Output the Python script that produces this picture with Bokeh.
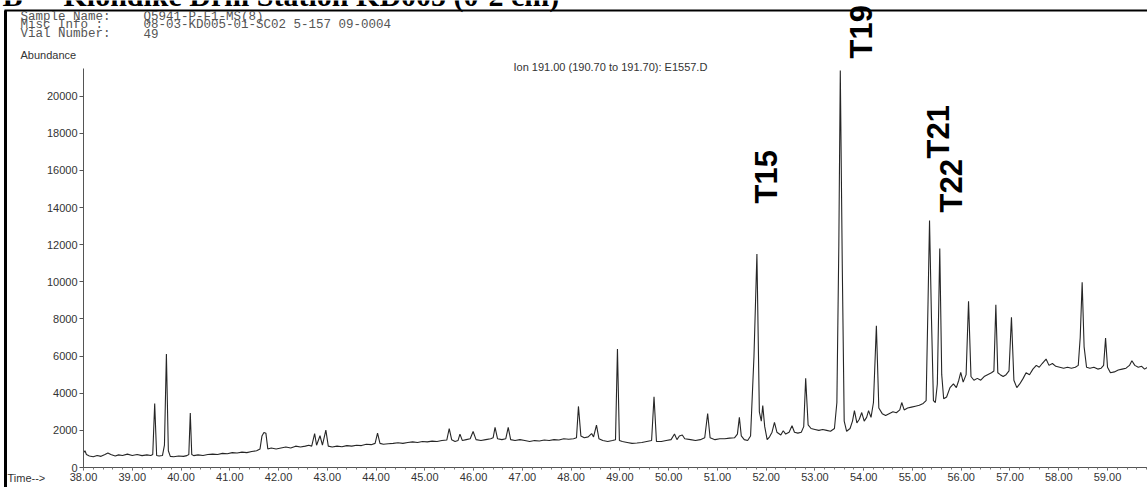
from bokeh.plotting import figure
from bokeh.models import Label, Arrow, NumeralTickFormatter, SingleIntervalTicker, Range1d
from bokeh.embed import file_html
from bokeh.resources import INLINE

# ---------------- data ----------------
times = [
    38.00, 38.03, 38.06, 38.12, 38.20, 38.28, 38.36, 38.44, 38.50, 38.56, 38.65, 38.72, 38.80, 38.90,
    39.00, 39.10, 39.20, 39.30, 39.38, 39.42, 39.46, 39.50, 39.55, 39.62, 39.66, 39.70, 39.74, 39.78,
    39.85, 39.95, 40.05, 40.12, 40.16, 40.19, 40.22, 40.26, 40.35, 40.45, 40.55, 40.65, 40.75, 40.85,
    40.95, 41.05, 41.15, 41.25, 41.35, 41.45, 41.55, 41.62, 41.66, 41.70, 41.74, 41.78, 41.85, 41.95,
    42.05, 42.15, 42.25, 42.35, 42.45, 42.55, 42.62, 42.68, 42.74, 42.78, 42.85, 42.90, 42.97, 43.02,
    43.10, 43.20, 43.30, 43.40, 43.50, 43.60, 43.70, 43.80, 43.90, 43.98, 44.03, 44.08, 44.15, 44.25,
    44.35, 44.45, 44.55, 44.65, 44.75, 44.85, 44.95, 45.05, 45.15, 45.25, 45.35, 45.45, 45.50, 45.55,
    45.62, 45.68, 45.72, 45.77, 45.85, 45.93, 45.99, 46.05, 46.15, 46.25, 46.35, 46.40, 46.44, 46.49,
    46.58, 46.66, 46.71, 46.76, 46.85, 46.95, 47.05, 47.15, 47.25, 47.35, 47.45, 47.55, 47.65, 47.75,
    47.85, 47.95, 48.05, 48.11, 48.15, 48.20, 48.27, 48.35, 48.42, 48.46, 48.52, 48.57, 48.65, 48.75,
    48.85, 48.91, 48.95, 48.99, 49.05, 49.15, 49.25, 49.35, 49.45, 49.55, 49.65, 49.70, 49.75, 49.85,
    49.95, 50.05, 50.12, 50.17, 50.22, 50.28, 50.33, 50.45, 50.55, 50.65, 50.74, 50.80, 50.85, 50.95,
    51.05, 51.15, 51.25, 51.35, 51.41, 51.45, 51.49, 51.55, 51.62, 51.68, 51.75, 51.81, 51.86, 51.90,
    51.93, 51.97, 52.02, 52.07, 52.12, 52.17, 52.22, 52.30, 52.35, 52.40, 52.47, 52.53, 52.58, 52.65,
    52.72, 52.77, 52.81, 52.86, 52.92, 53.00, 53.08, 53.16, 53.24, 53.32, 53.40, 53.45, 53.49, 53.52,
    53.56, 53.60, 53.65, 53.72, 53.77, 53.81, 53.86, 53.91, 53.96, 54.01, 54.06, 54.10, 54.15, 54.20,
    54.26, 54.31, 54.38, 54.45, 54.52, 54.60, 54.67, 54.74, 54.78, 54.83, 54.90, 54.98, 55.06, 55.14,
    55.22, 55.28, 55.32, 55.35, 55.39, 55.43, 55.47, 55.51, 55.56, 55.60, 55.64, 55.70, 55.77, 55.84,
    55.90, 55.95, 55.99, 56.04, 56.10, 56.15, 56.20, 56.26, 56.33, 56.40, 56.47, 56.54, 56.62, 56.67,
    56.71, 56.75, 56.80, 56.86, 56.92, 56.98, 57.03, 57.08, 57.14, 57.20, 57.27, 57.33, 57.40, 57.47,
    57.54, 57.60, 57.66, 57.74, 57.80, 57.87, 57.94, 58.02, 58.10, 58.18, 58.26, 58.34, 58.40, 58.44,
    58.48, 58.52, 58.57, 58.64, 58.72, 58.80, 58.87, 58.92, 58.96, 59.00, 59.06, 59.14, 59.22, 59.30,
    59.38, 59.45, 59.50, 59.56, 59.63, 59.70, 59.76, 59.82,
]
abundance = [
    800, 900, 700, 620, 580, 650, 600, 700, 780, 700, 620, 680, 650, 720,
    650, 700, 640, 680, 650, 700, 3450, 650, 620, 650, 1200, 6110, 900, 600,
    580, 620, 600, 640, 700, 2930, 700, 640, 680, 650, 700, 720, 700, 760,
    740, 800, 780, 830, 800, 860, 900, 1000, 1700, 1890, 1850, 1000, 1050, 1000,
    1050, 1100, 1050, 1150, 1100, 1150, 1200, 1150, 1830, 1200, 1710, 1200, 2010, 1150,
    1100, 1150, 1120, 1180, 1150, 1200, 1180, 1250, 1230, 1300, 1850, 1300, 1250, 1280,
    1300, 1330, 1300, 1350, 1380, 1350, 1400, 1380, 1420, 1400, 1450, 1480, 2100, 1500,
    1400, 1450, 1800, 1450, 1500, 1550, 1940, 1500, 1450, 1500, 1550, 1600, 2160, 1550,
    1500, 1550, 2160, 1500, 1450, 1500, 1450, 1400, 1450, 1430, 1480, 1450, 1500, 1480,
    1550, 1520, 1550, 1600, 3290, 1700, 1600, 1650, 1830, 1650, 2280, 1550, 1450, 1400,
    1450, 1500, 6380, 1450, 1400, 1350, 1300, 1320, 1350, 1400, 1450, 3810, 1400, 1400,
    1450, 1500, 1800, 1500, 1700, 1750, 1550, 1500, 1450, 1500, 1600, 2910, 1600, 1500,
    1550, 1550, 1580, 1600, 1800, 2700, 1700, 1500, 1450, 1700, 6000, 11500, 3000, 2500,
    3330, 2200, 1500, 1650, 1900, 2430, 1900, 1750, 1980, 1800, 1900, 2250, 1900, 1850,
    1900, 2200, 4800, 2300, 2100, 2050, 2000, 2050, 2000, 1950, 2100, 3500, 12000, 21380,
    11000, 2500, 1950, 2100, 2500, 3060, 2400, 2600, 2960, 2500, 2700, 3060, 2700, 3500,
    7640, 3200, 2900, 2800, 2900, 3000, 2950, 3100, 3500, 3100, 3200, 3250, 3300, 3350,
    3450, 3600, 9000, 13300, 8000, 3600, 3500, 4500, 11790, 5000, 3700, 3800, 4300, 4500,
    4300, 4700, 5120, 4600, 5000, 8950, 4900, 4700, 4800, 4700, 4900, 5000, 5100, 5200,
    8770, 5100, 5000, 4900, 5000, 5200, 8090, 4700, 4300, 4500, 4800, 5100, 5000, 5300,
    5500, 5400, 5600, 5840, 5500, 5600, 5450, 5400, 5350, 5400, 5350, 5400, 5500, 7000,
    9970, 6500, 5400, 5350, 5400, 5300, 5350, 5500, 6970, 5400, 5100, 5150, 5250, 5300,
    5350, 5500, 5750, 5500, 5400, 5450, 5300, 5400,
]

peak_names = ["T15", "T19", "T21", "T22"]
x_tick_step = 1.0
y_tick_step = 2000

title_letter = "B"
title_text = "Klondike Drill Station KD005 (0-2 cm)"
info_keys = ["Sample Name:", "Misc Info   :", "Vial Number:"]
info_vals = ["Q5941-P-F1-MS(8)", "08-03-KD005-01-SC02 5-157 09-0004", "49"]
ion_text = "Ion 191.00 (190.70 to 191.70): E1557.D"

# ---------------- layout (page pixels) ----------------
W, H = 1147, 487
AX_L, AX_R, AX_T, AX_B = 83, 1147, 68, 467   # where the axes sit on the page
X0, X1 = 38.0, 59.82                          # time at AX_L / AX_R
Y0, Y1 = 0.0, 21490.0                         # abundance at AX_B / AX_T


def dx(px):
    return X0 + (px - AX_L) * (X1 - X0) / (AX_R - AX_L)


def dy(py):
    return Y0 + (AX_B - py) * (Y1 - Y0) / (AX_B - AX_T)


# the frame covers the whole page; the axes are pinned at time 38 / abundance 0
p = figure(width=W, height=H, output_backend="svg", toolbar_location=None, title=None,
           x_range=Range1d(dx(0), dx(W)), y_range=Range1d(dy(H), dy(0)),
           min_border=0, min_border_left=0, min_border_right=0,
           min_border_top=0, min_border_bottom=0)
p.outline_line_color = None
p.grid.visible = False
p.background_fill_color = "white"
p.border_fill_color = "white"

p.line(times, abundance, line_color="#262626", line_width=1.1)

ax = p.xaxis[0]
ax.fixed_location = Y0
ax.bounds = (X0, X1)
ax.ticker = SingleIntervalTicker(interval=x_tick_step, num_minor_ticks=5)
ax.formatter = NumeralTickFormatter(format="0.00")
ax.axis_line_color = "#555555"
ax.major_tick_line_color = "#555555"
ax.minor_tick_line_color = "#777777"
ax.major_tick_in = 0
ax.major_tick_out = 3
ax.minor_tick_in = 0
ax.minor_tick_out = 2
ax.major_label_standoff = 2
ax.major_label_text_font = "Liberation Sans"
ax.major_label_text_font_size = "11px"
ax.major_label_text_color = "#333333"

ay = p.yaxis[0]
ay.fixed_location = X0
ay.bounds = (Y0, Y1)
ay.ticker = SingleIntervalTicker(interval=y_tick_step, num_minor_ticks=0)
ay.formatter = NumeralTickFormatter(format="0")
ay.axis_line_color = "#555555"
ay.major_tick_line_color = "#555555"
ay.major_tick_in = 0
ay.major_tick_out = 4
ay.minor_tick_out = 0
ay.minor_tick_in = 0
ay.major_label_standoff = 2
ay.major_label_text_font = "Liberation Sans"
ay.major_label_text_font_size = "11px"
ay.major_label_text_color = "#333333"

# frame border lines of the scanned page
p.add_layout(Arrow(x_start=dx(5), y_start=dy(10), x_end=dx(5), y_end=dy(495),
                   end=None, line_color="black", line_width=3))
p.add_layout(Arrow(x_start=dx(4), y_start=dy(10), x_end=dx(1160), y_end=dy(10),
                   end=None, line_color="black", line_width=2))

# cut-off title at the top of the page
p.add_layout(Label(x=dx(2), y=dy(-5), text=title_letter, text_font="Liberation Serif",
                   text_font_style="bold", text_font_size="30px", text_color="black",
                   text_align="left", text_baseline="alphabetic"))
p.add_layout(Label(x=dx(63), y=dy(-5), text=title_text, text_font="Liberation Serif",
                   text_font_style="bold", text_font_size="30px", text_color="black",
                   text_align="left", text_baseline="alphabetic"))

# header info
for i, (k, v) in enumerate(zip(info_keys, info_vals)):
    yy = dy(16 + 8.7 * i)
    p.add_layout(Label(x=dx(20), y=yy, text=k, text_font="Liberation Mono",
                       text_font_size="12.5px", text_color="#555555",
                       text_align="left", text_baseline="middle"))
    p.add_layout(Label(x=dx(143), y=yy, text=v, text_font="Liberation Mono",
                       text_font_size="12.5px", text_color="#555555",
                       text_align="left", text_baseline="middle"))

p.add_layout(Label(x=dx(20), y=dy(54), text="Abundance", text_font="Liberation Sans",
                   text_font_size="11px", text_color="#333333",
                   text_align="left", text_baseline="middle"))
p.add_layout(Label(x=dx(513), y=dy(66), text=ion_text, text_font="Liberation Sans",
                   text_font_size="11px", text_color="#333333",
                   text_align="left", text_baseline="middle"))
p.add_layout(Label(x=dx(7), y=dy(477), text="Time-->", text_font="Liberation Sans",
                   text_font_size="11px", text_color="#333333",
                   text_align="left", text_baseline="middle"))

# rotated peak labels (bottom of text, horizontal center) in page pixels
label_pos = {"T15": (765.5, 203), "T19": (860.5, 58), "T21": (938, 158), "T22": (951, 212)}
for name in peak_names:
    px, py = label_pos[name]
    p.add_layout(Label(x=dx(px), y=dy(py), text=name, angle=90, angle_units="deg",
                       text_font="Liberation Sans", text_font_style="bold",
                       text_font_size="31px", text_color="black",
                       text_align="left", text_baseline="middle"))

open("out.html", "w").write(file_html(p, INLINE))
